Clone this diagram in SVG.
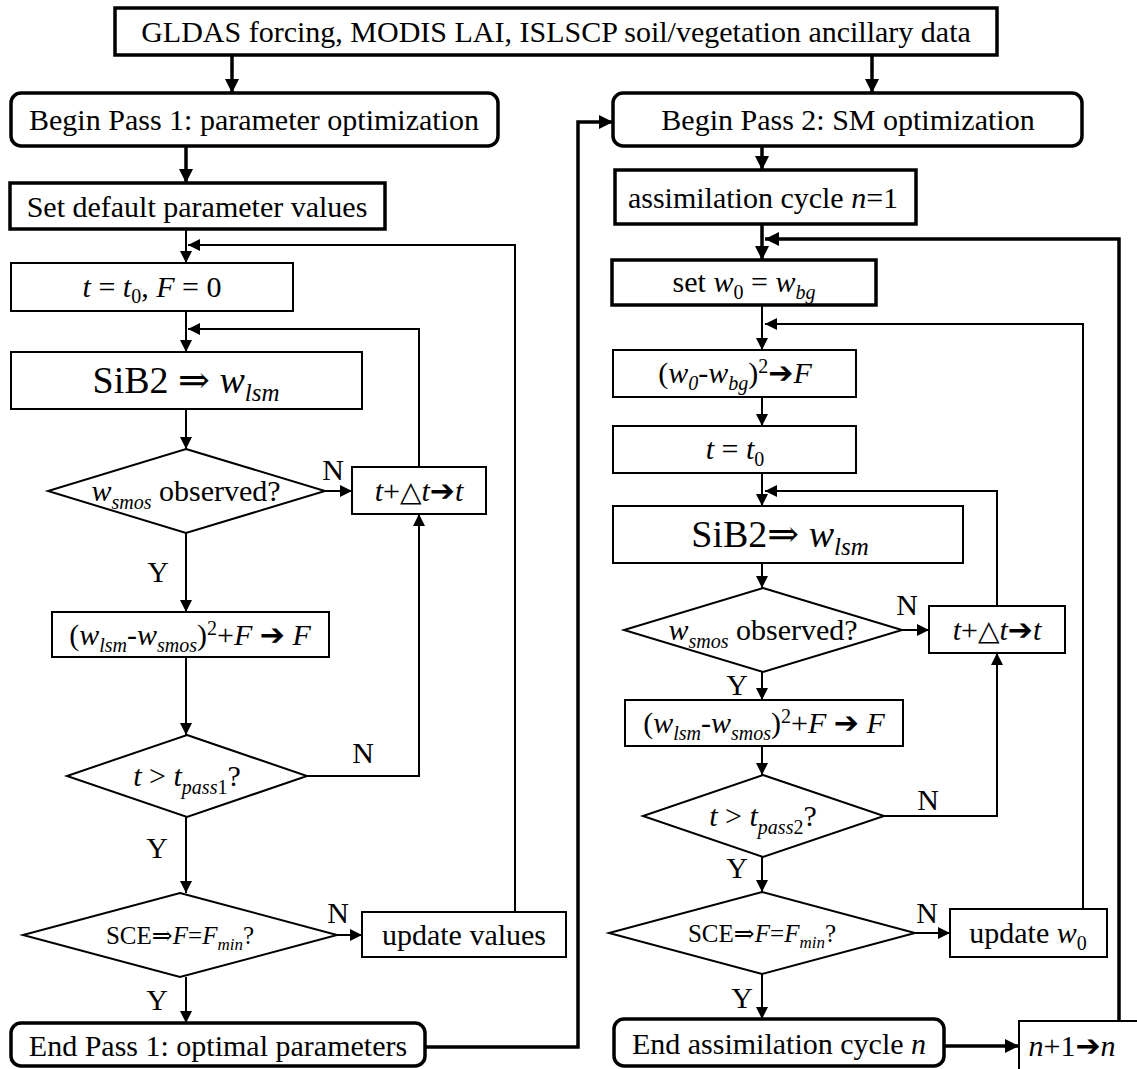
<svg xmlns="http://www.w3.org/2000/svg" width="1137" height="1069" viewBox="0 0 1137 1069">
<defs>
<style>
text{font-family:"Liberation Serif","Times New Roman","DejaVu Serif",serif;font-size:30px;fill:#000;text-anchor:middle}
.i{font-style:italic}
.s{font-size:20px}
.ar{font-family:"DejaVu Sans","Liberation Sans",sans-serif;font-size:30px}
.tr{font-family:"DejaVu Sans","Liberation Sans",sans-serif;font-size:28px}
.bx{fill:#fff;stroke:#000;stroke-width:2}
.bk{fill:#fff;stroke:#000;stroke-width:3.5}
.c{fill:none;stroke:#000;stroke-width:2}
.ck{fill:none;stroke:#000;stroke-width:3.5}
</style>
<marker id="a" markerUnits="userSpaceOnUse" markerWidth="14" markerHeight="14" refX="12" refY="6" orient="auto"><path d="M0,0 L12,6 L0,12 z" fill="#000"/></marker>
<marker id="ak" markerUnits="userSpaceOnUse" markerWidth="16" markerHeight="16" refX="14" refY="7" orient="auto"><path d="M0,0 L14,7 L0,14 z" fill="#000"/></marker>
</defs>
<rect width="1137" height="1069" fill="#fff"/>

<g id="connectors">
<path class="ck" d="M232,55 V93" marker-end="url(#ak)"/>
<path class="ck" d="M186,146 V183" marker-end="url(#ak)"/>
<path class="c" d="M186,229 V263" marker-end="url(#a)"/>
<path class="c" d="M515,912 V245 H188" marker-end="url(#a)"/>
<path class="c" d="M186,311 V352" marker-end="url(#a)"/>
<path class="c" d="M419,467 V329 H188" marker-end="url(#a)"/>
<path class="c" d="M186,409 V449" marker-end="url(#a)"/>
<path class="c" d="M325,491 H352" marker-end="url(#a)"/>
<path class="c" d="M186,533 V612" marker-end="url(#a)"/>
<path class="c" d="M186,657 V735" marker-end="url(#a)"/>
<path class="c" d="M307,776 H419 V514" marker-end="url(#a)"/>
<path class="c" d="M186,817 V893" marker-end="url(#a)"/>
<path class="c" d="M337,935 H362" marker-end="url(#a)"/>
<path class="c" d="M186,977 V1023" marker-end="url(#a)"/>
<path class="ck" d="M425,1047 H578 V122 H613" marker-end="url(#ak)"/>

<path class="ck" d="M872,55 V93" marker-end="url(#ak)"/>
<path class="ck" d="M762,146 V170" marker-end="url(#ak)"/>
<path class="ck" d="M762,224 V260" marker-end="url(#ak)"/>
<path class="ck" d="M1119,1021 V239 H765" marker-end="url(#ak)"/>
<path class="c" d="M762,305 V350" marker-end="url(#a)"/>
<path class="c" d="M1083,909 V324 H765" marker-end="url(#a)"/>
<path class="c" d="M762,397 V426" marker-end="url(#a)"/>
<path class="c" d="M762,473 V506" marker-end="url(#a)"/>
<path class="c" d="M997,606 V491 H765" marker-end="url(#a)"/>
<path class="c" d="M762,563 V588" marker-end="url(#a)"/>
<path class="c" d="M902,630 H929" marker-end="url(#a)"/>
<path class="c" d="M762,672 V700" marker-end="url(#a)"/>
<path class="c" d="M762,746 V775" marker-end="url(#a)"/>
<path class="c" d="M884,816 H997 V653" marker-end="url(#a)"/>
<path class="c" d="M762,857 V892" marker-end="url(#a)"/>
<path class="c" d="M915,933 H950" marker-end="url(#a)"/>
<path class="c" d="M762,974 V1019" marker-end="url(#a)"/>
<path class="ck" d="M944,1046 H1019" marker-end="url(#ak)"/>

<text x="333" y="480">N</text>
<text x="158" y="582">Y</text>
<text x="363" y="763">N</text>
<text x="157" y="858">Y</text>
<text x="338" y="923">N</text>
<text x="157" y="1010">Y</text>
<text x="907" y="615">N</text>
<text x="737" y="695">Y</text>
<text x="928" y="810">N</text>
<text x="737" y="878">Y</text>
<text x="927" y="923">N</text>
<text x="742" y="1008">Y</text>
</g>

<g id="input">
<rect class="bk" x="115" y="8" width="882" height="47"/>
<text x="556" y="42">GLDAS forcing, MODIS LAI, ISLSCP soil/vegetation ancillary data</text>
</g>

<g id="begin1">
<rect class="bk" x="11" y="93" width="487" height="53" rx="10"/>
<text x="254" y="130">Begin Pass 1: parameter optimization</text>
</g>
<g id="setdefault">
<rect class="bk" x="10" y="183" width="375" height="46"/>
<text x="197" y="217">Set default parameter values</text>
</g>
<g id="tinit1">
<rect class="bx" x="11" y="263" width="282" height="48"/>
<text x="152" y="297"><tspan class="i">t</tspan> = <tspan class="i">t</tspan><tspan class="s" dy="6">0</tspan><tspan dy="-6">, </tspan><tspan class="i">F</tspan> = 0</text>
</g>
<g id="sib1">
<rect class="bx" x="11" y="352" width="351" height="57"/>
<text x="186" y="393" style="font-size:38px">SiB2 ⇒ <tspan class="i">w</tspan><tspan class="i" style="font-size:25px" dy="8">lsm</tspan></text>
</g>
<g id="obs1">
<polygon class="bx" points="186,449 325,491 186,533 48,491"/>
<text x="186" y="501"><tspan class="i">w</tspan><tspan class="i s" dy="8">smos</tspan><tspan dy="-8"> observed?</tspan></text>
</g>
<g id="tstep1">
<rect class="bx" x="352" y="467" width="134" height="47"/>
<text x="419" y="501"><tspan class="i">t</tspan>+<tspan class="tr">△</tspan><tspan class="i">t</tspan><tspan class="ar">➔</tspan><tspan class="i">t</tspan></text>
</g>
<g id="cost1">
<rect class="bx" x="52" y="612" width="277" height="45"/>
<text x="190" y="645">(<tspan class="i">w</tspan><tspan class="i s" dy="7">lsm</tspan><tspan dy="-7">-</tspan><tspan class="i">w</tspan><tspan class="i s" dy="7">smos</tspan><tspan dy="-7">)</tspan><tspan class="s" dy="-10">2</tspan><tspan dy="10">+</tspan><tspan class="i">F</tspan> <tspan class="ar">➔</tspan> <tspan class="i">F</tspan></text>
</g>
<g id="tcheck1">
<polygon class="bx" points="187,735 307,776 187,817 67,776"/>
<text x="187" y="786"><tspan class="i">t</tspan> &gt; <tspan class="i">t</tspan><tspan class="i s" dy="8">pass</tspan><tspan class="s">1</tspan><tspan dy="-8">?</tspan></text>
</g>
<g id="sce1">
<polygon class="bx" points="180,893 337,935 180,977 23,935"/>
<text x="180" y="944" style="font-size:25px">SCE⇒<tspan class="i">F</tspan>=<tspan class="i">F</tspan><tspan class="i" style="font-size:17px" dy="6">min</tspan><tspan dy="-6">?</tspan></text>
</g>
<g id="update1">
<rect class="bx" x="362" y="912" width="204" height="45"/>
<text x="464" y="945">update values</text>
</g>
<g id="end1">
<rect class="bk" x="11" y="1023" width="414" height="43" rx="10"/>
<text x="218" y="1056">End Pass 1: optimal parameters</text>
</g>

<g id="begin2">
<rect class="bk" x="613" y="93" width="469" height="53" rx="10"/>
<text x="848" y="130">Begin Pass 2: SM optimization</text>
</g>
<g id="cycle1">
<rect class="bk" x="615" y="170" width="301" height="54"/>
<text x="763" y="208">assimilation cycle <tspan class="i">n</tspan>=1</text>
</g>
<g id="setw0">
<rect class="bk" x="612" y="260" width="264" height="45"/>
<text x="744" y="292">set <tspan class="i">w</tspan><tspan class="s" dy="7">0</tspan><tspan dy="-7"> = </tspan><tspan class="i">w</tspan><tspan class="i s" dy="7">bg</tspan></text>
</g>
<g id="bgcost">
<rect class="bx" x="613" y="350" width="243" height="47"/>
<text x="735" y="383">(<tspan class="i">w</tspan><tspan class="i s" dy="7">0</tspan><tspan dy="-7">-</tspan><tspan class="i">w</tspan><tspan class="i s" dy="7">bg</tspan><tspan dy="-7">)</tspan><tspan class="s" dy="-10">2</tspan><tspan class="ar" dy="10">➔</tspan><tspan class="i">F</tspan></text>
</g>
<g id="tinit2">
<rect class="bx" x="613" y="426" width="243" height="47"/>
<text x="735" y="459"><tspan class="i">t</tspan> = <tspan class="i">t</tspan><tspan class="s" dy="7">0</tspan></text>
</g>
<g id="sib2">
<rect class="bx" x="613" y="506" width="350" height="57"/>
<text x="780" y="547" style="font-size:38px">SiB2⇒ <tspan class="i">w</tspan><tspan class="i" style="font-size:25px" dy="8">lsm</tspan></text>
</g>
<g id="obs2">
<polygon class="bx" points="763,588 902,630 763,672 624,630"/>
<text x="763" y="640"><tspan class="i">w</tspan><tspan class="i s" dy="8">smos</tspan><tspan dy="-8"> observed?</tspan></text>
</g>
<g id="tstep2">
<rect class="bx" x="929" y="606" width="136" height="47"/>
<text x="997" y="640"><tspan class="i">t</tspan>+<tspan class="tr">△</tspan><tspan class="i">t</tspan><tspan class="ar">➔</tspan><tspan class="i">t</tspan></text>
</g>
<g id="cost2">
<rect class="bx" x="625" y="700" width="278" height="46"/>
<text x="764" y="733">(<tspan class="i">w</tspan><tspan class="i s" dy="7">lsm</tspan><tspan dy="-7">-</tspan><tspan class="i">w</tspan><tspan class="i s" dy="7">smos</tspan><tspan dy="-7">)</tspan><tspan class="s" dy="-10">2</tspan><tspan dy="10">+</tspan><tspan class="i">F</tspan> <tspan class="ar">➔</tspan> <tspan class="i">F</tspan></text>
</g>
<g id="tcheck2">
<polygon class="bx" points="763,775 884,816 763,857 643,816"/>
<text x="763" y="826"><tspan class="i">t</tspan> &gt; <tspan class="i">t</tspan><tspan class="i s" dy="8">pass</tspan><tspan class="s">2</tspan><tspan dy="-8">?</tspan></text>
</g>
<g id="sce2">
<polygon class="bx" points="762,892 915,933 762,974 609,933"/>
<text x="762" y="942" style="font-size:25px">SCE⇒<tspan class="i">F</tspan>=<tspan class="i">F</tspan><tspan class="i" style="font-size:17px" dy="6">min</tspan><tspan dy="-6">?</tspan></text>
</g>
<g id="update2">
<rect class="bx" x="950" y="909" width="157" height="48"/>
<text x="1028" y="943">update <tspan class="i">w</tspan><tspan class="s" dy="7">0</tspan></text>
</g>
<g id="end2">
<rect class="bk" x="614" y="1019" width="330" height="47" rx="10"/>
<text x="779" y="1054">End assimilation cycle <tspan class="i">n</tspan></text>
</g>
<g id="next">
<rect class="bx" x="1019" y="1021" width="130" height="50"/>
<text x="1072" y="1056"><tspan class="i">n</tspan>+1<tspan class="ar">➔</tspan><tspan class="i">n</tspan></text>
</g>
</svg>
